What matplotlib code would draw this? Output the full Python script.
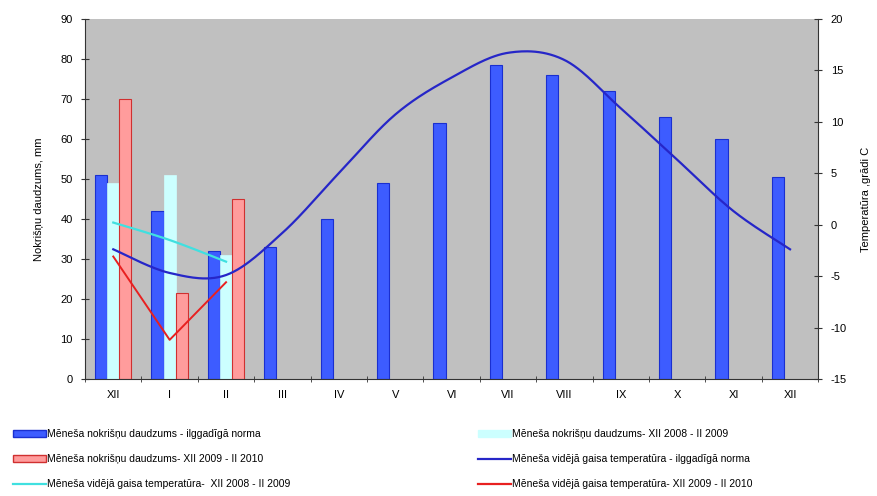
import numpy as np
import matplotlib
matplotlib.use("Agg")
import matplotlib.pyplot as plt
from matplotlib.patches import Patch
from matplotlib.lines import Line2D

plt.rcParams['font.family'] = ['Liberation Sans', 'DejaVu Sans']
plt.rcParams['axes.unicode_minus'] = False

# Categories (months, Dec .. Dec)
months = ["XII", "I", "II", "III", "IV", "V", "VI", "VII", "VIII", "IX", "X", "XI", "XII"]

# Precipitation, mm
precip_norm = [51, 42, 32, 33, 40, 49, 64, 78.5, 76, 72, 65.5, 60, 50.5]
precip_0809 = [49, 51, 31]
precip_0910 = [70, 21.5, 45]

# Temperature, deg C
temp_norm = [-2.4, -4.7, -4.9, -0.8, 5.0, 10.7, 14.3, 16.7, 16.0, 11.3, 6.3, 1.3, -2.4]
temp_0809 = [0.2, -1.5, -3.6]
temp_0910 = [-3.1, -11.2, -5.6]


def smooth(xs, ys, n=30):
    # Excel-like smoothed line (Catmull-Rom / Bezier) for drawing
    xs = np.asarray(xs, float)
    ys = np.asarray(ys, float)
    px = np.concatenate([[xs[0]], xs, [xs[-1]]])
    py = np.concatenate([[ys[0]], ys, [ys[-1]]])
    ox, oy = [], []
    t = np.linspace(0, 1, n)
    for i in range(1, len(px) - 2):
        p0 = np.array([px[i], py[i]])
        p3 = np.array([px[i + 1], py[i + 1]])
        c1 = p0 + (np.array([px[i + 1], py[i + 1]]) - np.array([px[i - 1], py[i - 1]])) / 6
        c2 = p3 - (np.array([px[i + 2], py[i + 2]]) - np.array([px[i], py[i]])) / 6
        b = ((1 - t) ** 3)[:, None] * p0 + (3 * (1 - t) ** 2 * t)[:, None] * c1 \
            + (3 * (1 - t) * t ** 2)[:, None] * c2 + (t ** 3)[:, None] * p3
        ox.extend(b[:, 0])
        oy.extend(b[:, 1])
    return ox, oy


fig = plt.figure(figsize=(8.77, 4.96), dpi=100)
ax = fig.add_axes([0.097, 0.236, 0.836, 0.726])
ax.set_facecolor('#c0c0c0')

x = np.arange(len(months))
w = 0.215
ax.bar(x - w, precip_norm, w, color='#3d5cff', edgecolor='#1a2fd0', linewidth=0.8, zorder=2)
ax.bar(x[:3], precip_0809, w, color='#ccffff', edgecolor='#ccffff', linewidth=0.5, zorder=2)
ax.bar(x[:3] + w, precip_0910, w, color='#ff9c9c', edgecolor='#d03030', linewidth=0.8, zorder=2)

ax.set_xlim(-0.5, len(months) - 0.5)
ax.set_ylim(0, 90)
ax.set_yticks(range(0, 91, 10))
ax.set_xticks(x)
ax.set_xticklabels(months)
ax.set_xticks(np.arange(-0.5, len(months), 1), minor=True)
ax.tick_params(axis='x', which='major', length=0, pad=8, labelsize=8)
ax.tick_params(axis='x', which='minor', length=4, direction='inout', color='#333333')
ax.tick_params(axis='y', length=6, direction='inout', labelsize=8, pad=6, color='#333333')
ax.set_ylabel('Nokrišņu daudzums, mm', fontsize=8, labelpad=12)
for s in ['top', 'right']:
    ax.spines[s].set_visible(False)
for s in ['left', 'bottom']:
    ax.spines[s].set_color('#333333')

ax2 = ax.twinx()
ax2.set_ylim(-15, 20)
ax2.set_yticks(range(-15, 21, 5))
ax2.tick_params(axis='y', length=6, direction='inout', labelsize=8, pad=6, color='#333333')
ax2.set_ylabel('Temperatūra ,grādi C', fontsize=8, labelpad=10)
for s in ['top', 'left', 'bottom']:
    ax2.spines[s].set_visible(False)
ax2.spines['right'].set_color('#333333')

sx, sy = smooth(x, temp_norm)
ax2.plot(sx, sy, color='#2626c8', linewidth=1.6, zorder=3)
sx, sy = smooth(x[:3], temp_0809)
ax2.plot(sx, sy, color='#40e0e0', linewidth=1.6, zorder=3)
ax2.plot(x[:3], temp_0910, color='#e82020', linewidth=1.4, zorder=3)

h_left = [
    Patch(facecolor='#3d5cff', edgecolor='#1a2fd0'),
    Patch(facecolor='#ff9c9c', edgecolor='#d03030'),
    Line2D([], [], color='#40e0e0', linewidth=1.6),
]
l_left = [
    'Mēneša nokrišņu daudzums - ilggadīgā norma',
    'Mēneša nokrišņu daudzums- XII 2009 - II 2010',
    'Mēneša vidējā gaisa temperatūra-  XII 2008 - II 2009',
]
h_right = [
    Patch(facecolor='#ccffff', edgecolor='#ccffff'),
    Line2D([], [], color='#2626c8', linewidth=1.6),
    Line2D([], [], color='#e82020', linewidth=1.6),
]
l_right = [
    'Mēneša nokrišņu daudzums- XII 2008 - II 2009',
    'Mēneša vidējā gaisa temperatūra - ilggadīgā norma',
    'Mēneša vidējā gaisa temperatūra- XII 2009 - II 2010',
]
kw = dict(frameon=False, fontsize=7.5, handlelength=3.2, handleheight=0.6,
          handletextpad=0.1, labelspacing=1.45, borderaxespad=0)
fig.legend(h_left, l_left, loc='upper left', bbox_to_anchor=(0.01, 0.143), **kw)
fig.legend(h_right, l_right, loc='upper left', bbox_to_anchor=(0.54, 0.143), **kw)

fig.savefig('out.png', dpi=100)
